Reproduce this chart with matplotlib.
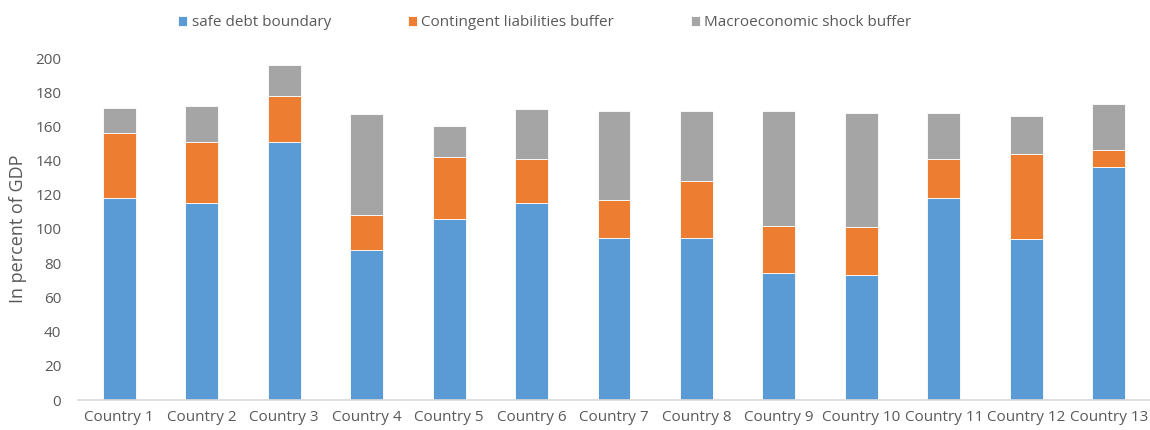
import matplotlib
matplotlib.use("Agg")
import matplotlib.pyplot as plt
import numpy as np

countries = [f"Country {i}" for i in range(1, 14)]
safe_debt = [118, 115, 151, 88, 106, 115, 95, 95, 74, 73, 118, 94, 136]
contingent = [38, 36, 27, 20, 36, 26, 22, 33, 28, 28, 23, 50, 10]
macro_shock = [15, 21, 18, 59, 18, 29, 52, 41, 67, 67, 27, 22, 27]

series_names = ["safe debt boundary", "Contingent liabilities buffer",
                "Macroeconomic shock buffer"]
colors = ["#5B9BD5", "#ED7D31", "#A5A5A5"]
text_color = "#595959"

plt.rcParams["font.family"] = ["Open Sans", "DejaVu Sans"]

fig = plt.figure(figsize=(11.5, 4.3), dpi=100)
ax = fig.add_axes([78 / 1150, 30 / 430, 1072 / 1150, 342 / 430])

x = np.arange(len(countries))
bottom = np.zeros(len(countries))
handles = []
for vals, name, c in zip([safe_debt, contingent, macro_shock], series_names, colors):
    b = ax.bar(x, vals, width=0.4, bottom=bottom, color=c, label=name,
               edgecolor="white", linewidth=0.6)
    handles.append(b)
    bottom += np.array(vals)

ax.set_xlim(-0.5, len(countries) - 0.5)
ax.set_ylim(0, 200)
ax.set_yticks(range(0, 201, 20))
ax.set_xticks(x)
ax.set_xticklabels(countries)
ax.tick_params(axis="both", length=0, colors=text_color, labelsize=11)
ax.tick_params(axis="x", pad=7)
ax.tick_params(axis="y", pad=12)
for side in ["top", "right", "left"]:
    ax.spines[side].set_visible(False)
ax.spines["bottom"].set_color("#D9D9D9")
ax.spines["bottom"].set_linewidth(1.2)

ax.set_ylabel("In percent of GDP", color=text_color, fontsize=13, labelpad=6)

fig.legend(handles=handles, labels=series_names, loc="center",
           bbox_to_anchor=(545 / 1150, 1 - 23 / 430), ncol=3, frameon=False,
           fontsize=11, handlelength=0.6, handleheight=0.6, handletextpad=0.3,
           columnspacing=5.0, labelcolor=text_color)

fig.savefig("out.png", dpi=100)
